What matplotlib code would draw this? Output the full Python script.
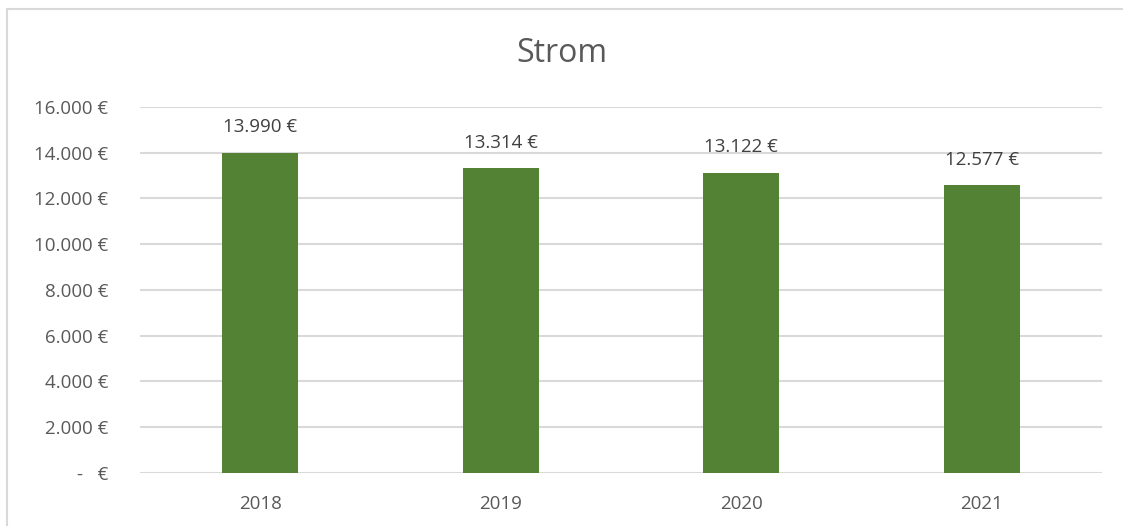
import matplotlib.pyplot as plt
from matplotlib.patches import Rectangle
from matplotlib.ticker import FuncFormatter

plt.rcParams['font.family'] = ['Open Sans', 'DejaVu Sans']

# data
years = ['2018', '2019', '2020', '2021']
costs = [13990, 13314, 13122, 12577]
y_ticks = [0, 2000, 4000, 6000, 8000, 10000, 12000, 14000, 16000]

bar_color = '#548235'
grid_color = '#d9d9d9'
text_color = '#595959'


def euro(v, pos=None):
    if v == 0:
        return '-   €'
    return f'{int(v):,} €'.replace(',', '.')


fig = plt.figure(figsize=(11.23, 5.26), dpi=100)
ax = fig.add_axes([0.1247, 0.1008, 0.8566, 0.6958])

# outer chart border (cut off at right/bottom like the reference)
fig.patches.append(Rectangle((7 / 1123, -0.1), 1.2, 1 - 9 / 526 + 0.1,
                             transform=fig.transFigure, fill=False,
                             edgecolor=grid_color, linewidth=1.5))

x = range(len(years))
bars = ax.bar(x, costs, width=0.315, color=bar_color, zorder=3)

ax.set_xlim(-0.5, len(years) - 0.5)
ax.set_ylim(0, 16000)
ax.set_yticks(y_ticks)
ax.yaxis.set_major_formatter(FuncFormatter(euro))
ax.set_xticks(list(x))
ax.set_xticklabels(years)

ax.grid(axis='y', color=grid_color, linewidth=1.5, zorder=0)
for s in ax.spines.values():
    s.set_visible(False)
ax.tick_params(axis='both', length=0, labelsize=13.5, labelcolor=text_color)
ax.tick_params(axis='y', pad=23)
ax.tick_params(axis='x', pad=16)

# value labels above bars
for bar, v in zip(bars, costs):
    ax.annotate(euro(v), (bar.get_x() + bar.get_width() / 2, v),
                xytext=(0, 12), textcoords='offset points',
                ha='center', va='bottom', fontsize=13.5, color='#404040')

fig.text(0.5, 1 - 53 / 526, 'Strom', ha='center', va='center',
         fontsize=23, color=text_color)

fig.savefig('out.png', dpi=100)
